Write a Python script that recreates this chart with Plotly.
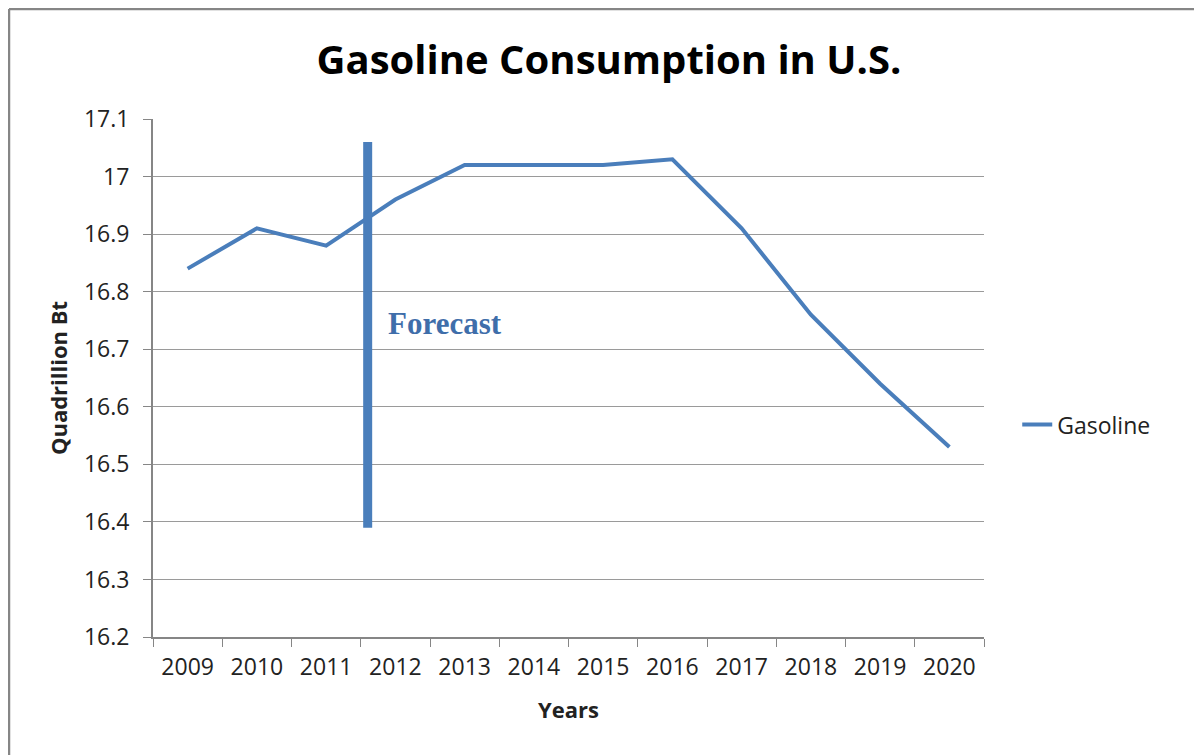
import plotly.graph_objects as go

# gasoline consumption
years = ["2009", "2010", "2011", "2012", "2013", "2014", "2015", "2016", "2017", "2018", "2019", "2020"]
gasoline = [16.84, 16.91, 16.88, 16.96, 17.02, 17.02, 17.02, 17.03, 16.91, 16.76, 16.64, 16.53]

# forecast marker line (category position, y range)
forecast_x = 2.6
forecast_y = [16.39, 17.06]

blue = "#4A7EBB"
grey = "#868686"
font = "Open Sans"

W, H = 1202, 755
# the page puts the figure 8px in from the top-left corner
L, R, T, B = 145, 226, 111, 126

fig = go.Figure()
fig.add_trace(go.Scatter(x=years, y=gasoline, mode="lines", name="Gasoline",
                         line=dict(color=blue, width=4)))

fig.add_shape(type="line", xref="x", yref="y",
              x0=forecast_x, x1=forecast_x, y0=forecast_y[0], y1=forecast_y[1],
              line=dict(color=blue, width=9))
fig.add_annotation(x=forecast_x + 0.27, y=16.745, xref="x", yref="y", text="<b>Forecast</b>",
                   showarrow=False, xanchor="left",
                   font=dict(family="Liberation Serif", size=31, color="#3F6EAA"))

# outer frame (only top and left edge visible)
pw, ph = W - L - R, H - T - B
fx = (1 - L) / pw
fy = 1 + (T - 1) / ph
fig.add_shape(type="line", xref="paper", yref="paper", x0=fx, x1=1.4, y0=fy, y1=fy,
              line=dict(color=grey, width=2.5))
fig.add_shape(type="line", xref="paper", yref="paper", x0=fx, x1=fx, y0=fy, y1=-0.4,
              line=dict(color=grey, width=2.5))

fig.update_layout(
    width=W, height=H,
    margin=dict(l=L, r=R, t=T, b=B),
    paper_bgcolor="white", plot_bgcolor="white",
    font=dict(family=font, color="#222222"),
    title=dict(text="<b>Gasoline Consumption in U.S.</b>", x=0.5,
               xanchor="center", y=0.931, yanchor="middle",
               font=dict(size=40, color="black")),
    showlegend=True,
    legend=dict(x=1.04, y=0.41, xanchor="left", yanchor="middle",
                font=dict(size=23, color="#222222"), bgcolor="rgba(0,0,0,0)"),
    xaxis=dict(type="category", tickson="boundaries", ticks="outside", ticklen=8,
               tickcolor=grey, showgrid=False, showline=True, linecolor=grey, linewidth=2,
               tickfont=dict(size=23), range=[-0.5, 11.5], ticklabelstandoff=8,
               title=dict(text="<b>Years</b>", font=dict(size=22), standoff=22)),
    yaxis=dict(range=[16.2, 17.1], dtick=0.1, tickformat="~r", ticks="outside", ticklen=8,
               tickcolor=grey, showgrid=True, gridcolor="#9A9A9A", gridwidth=1.3,
               showline=True, linecolor=grey, linewidth=2, zeroline=False,
               tickfont=dict(size=23), ticklabelstandoff=9,
               title=dict(text="<b>Quadrillion Bt</b>", font=dict(size=22), standoff=10)),
)

fig.write_html("out.html")
